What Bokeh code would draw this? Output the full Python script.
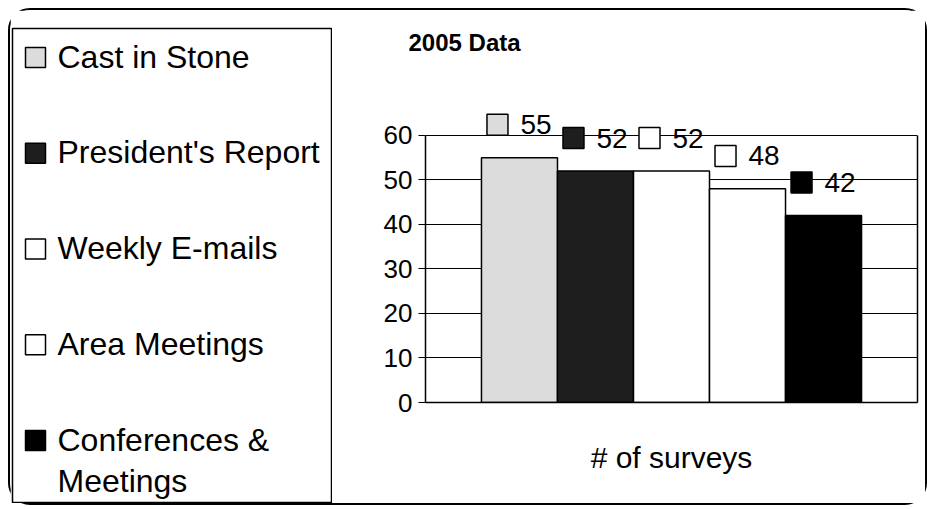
from bokeh.plotting import figure
from bokeh.layouts import row
from bokeh.models import (ColumnDataSource, FactorRange, Range1d, LinearAxis, FixedTicker)
from bokeh.transform import dodge
from bokeh.core.properties import value
from bokeh.embed import file_html
from bokeh.resources import INLINE

# ---- data ----
category = "# of surveys"
series = ["Cast in Stone", "President's Report", "Weekly E-mails",
          "Area Meetings", "Conferences & Meetings"]
legend_labels = ["Cast in Stone", "President's Report", "Weekly E-mails",
                 "Area Meetings", "Conferences &\nMeetings"]
values = [55, 52, 52, 48, 42]
value_labels = ["55", "52", "52", "48", "42"]
y_ticks = [0, 10, 20, 30, 40, 50, 60]
title_text = "2005 Data"

# ---- style ----
colors = ["#dcdcdc", "#1e1e1e", "#ffffff", "#ffffff", "#000000"]
FONT = "Liberation Sans"
BAR_W = 0.1545
FRAME_W = 492
n = len(series)

# ---------------- legend panel (left) ----------------
ROW_PX = 95.75
LEG_H = 474
leg_src = ColumnDataSource(dict(idx=list(range(n)), label=legend_labels, color=colors))
lf = figure(width=322, height=493, x_range=Range1d(0, 320),
            y_range=Range1d(-0.303 + LEG_H / ROW_PX, -0.303),
            x_axis_type=None, y_axis_type=None, output_backend="svg",
            toolbar_location=None, min_border_left=2, min_border_right=0,
            min_border_top=18, min_border_bottom=1, frame_align=False)
lf.outline_line_color = "black"
lf.outline_line_width = 1.5
lf.grid.grid_line_color = None
KEY_X, TEXT_X = 23, 45
lf.rect(x=KEY_X, y="idx", width=20, height=20, width_units="screen",
        height_units="screen", source=leg_src, fill_color="color",
        line_color="black", line_width=1.5)
lf.text(x=TEXT_X, y="idx", text="label", source=leg_src, text_align="left",
        text_baseline="top", y_offset=-19, text_font=value(FONT),
        text_font_size="32px", text_color="black", text_line_height=1.15)

# ---------------- chart (right) ----------------
p = figure(x_range=FactorRange(category, range_padding=0), y_range=Range1d(0, 77.5),
           width=593, height=493, output_backend="svg", toolbar_location=None,
           min_border_left=93, min_border_right=8, min_border_top=47,
           min_border_bottom=101, frame_align=False)
p.title.text = title_text
p.title.align = "left"
p.title.offset = -17
p.title.standoff = 4
p.title.text_font = FONT
p.title.text_font_style = "bold"
p.title.text_font_size = "24px"
p.title.text_color = "black"
p.outline_line_color = None
p.xgrid.grid_line_color = None
p.ygrid.ticker = FixedTicker(ticks=y_ticks)
p.ygrid.grid_line_color = "black"
p.ygrid.grid_line_width = 1.2

p.yaxis.ticker = FixedTicker(ticks=y_ticks)
p.yaxis.bounds = (0, 60)
p.yaxis.major_label_text_font = FONT
p.yaxis.major_label_text_font_size = "26px"
p.yaxis.major_label_text_color = "black"
p.yaxis.major_tick_out = 7
p.yaxis.major_tick_in = 0
p.yaxis.minor_tick_line_color = None
p.yaxis.major_label_standoff = 6
p.yaxis.axis_line_color = "black"
p.yaxis.axis_line_width = 1.5

right_axis = LinearAxis(bounds=(0, 60), ticker=FixedTicker(ticks=[]),
                        major_tick_line_color=None, minor_tick_line_color=None,
                        major_label_text_font_size="0px", axis_line_color="black",
                        axis_line_width=1.5)
p.add_layout(right_axis, "right")

p.xaxis.major_label_text_font = FONT
p.xaxis.major_label_text_font_size = "30px"
p.xaxis.major_label_text_color = "black"
p.xaxis.major_tick_line_color = None
p.xaxis.major_label_standoff = 32
p.xaxis.axis_line_color = "black"
p.xaxis.axis_line_width = 1.5

for i in range(n):
    off = (i - (n - 1) / 2) * BAR_W
    src = ColumnDataSource(dict(cat=[category], val=[values[i]], lab=[value_labels[i]]))
    p.vbar(x=dodge("cat", off, range=p.x_range), top="val", width=BAR_W,
           source=src, fill_color=colors[i], line_color="black", line_width=1.5)
    # data label: legend key square + value
    p.rect(x=dodge("cat", off - 22 / FRAME_W, range=p.x_range), y=dodge("val", 7.4),
           width=21, height=21, width_units="screen", height_units="screen",
           source=src, fill_color=colors[i], line_color="black", line_width=1.5)
    p.text(x=dodge("cat", off, range=p.x_range), y="val", text="lab", source=src,
           x_offset=1, y_offset=-33, text_align="left", text_baseline="middle",
           text_font=value(FONT), text_font_size="28px", text_color="black")

layout = row(lf, p, styles={"margin": "8px 0 0 8px", "border": "2px solid #000",
                            "border-radius": "22px"})

open("out.html", "w").write(file_html(layout, INLINE))
